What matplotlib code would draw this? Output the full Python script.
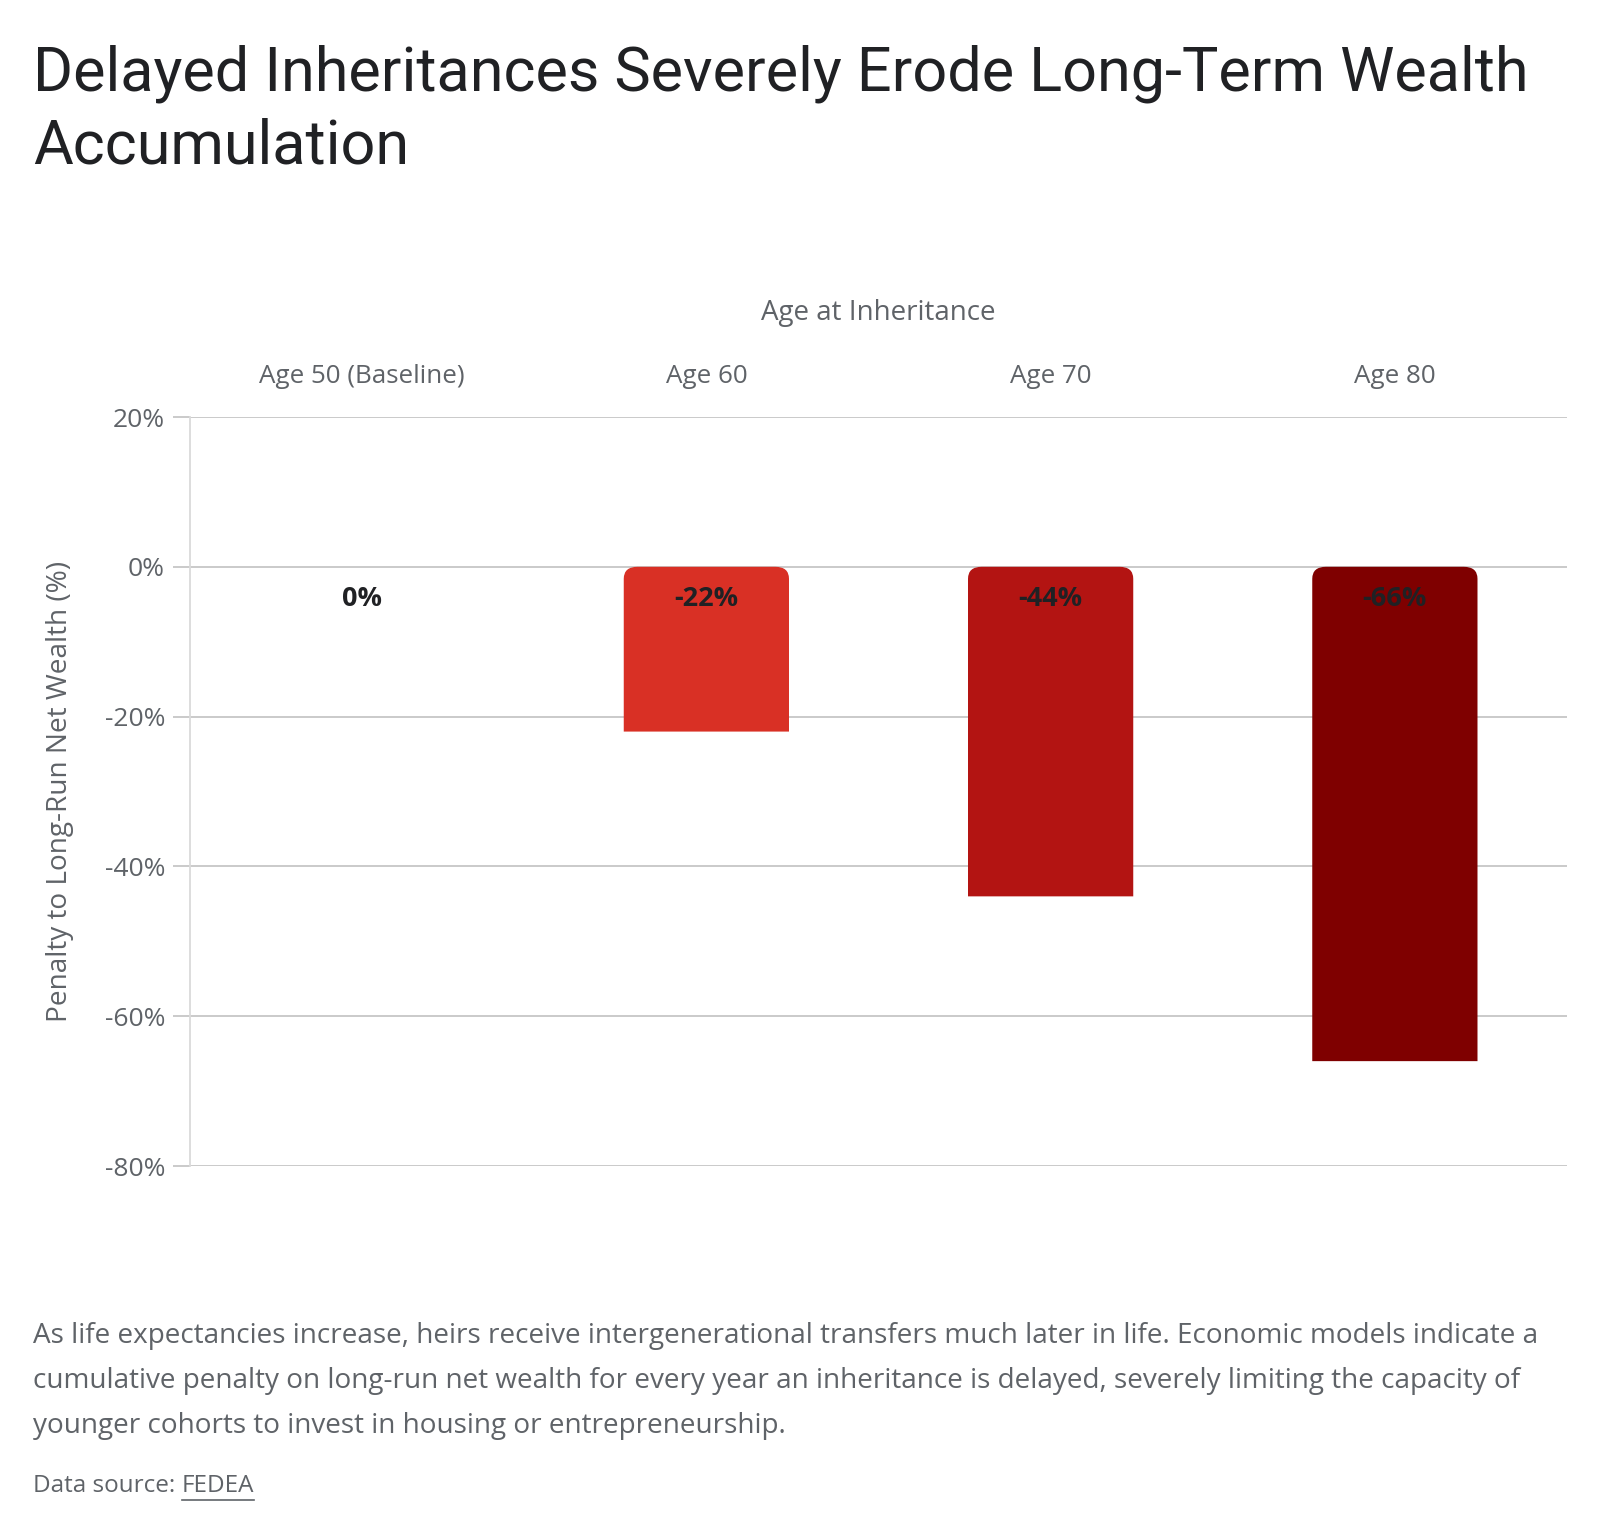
import matplotlib.pyplot as plt
from matplotlib.patches import PathPatch
from matplotlib.path import Path

# Data
categories = ["Age 50 (Baseline)", "Age 60", "Age 70", "Age 80"]
penalties = [0, -22, -44, -66]
bar_colors = ["#e8453c", "#d93025", "#b31412", "#7f0000"]
y_ticks = [20, 0, -20, -40, -60, -80]

title = "Delayed Inheritances Severely Erode Long-Term Wealth\nAccumulation"
subtitle = ("As life expectancies increase, heirs receive intergenerational transfers much later in life. Economic models indicate a\n"
            "cumulative penalty on long-run net wealth for every year an inheritance is delayed, severely limiting the capacity of\n"
            "younger cohorts to invest in housing or entrepreneurship.")

plt.rcParams["font.family"] = ["Open Sans", "DejaVu Sans"]
grey = "#5f6368"

W, H = 1600, 1534
fig = plt.figure(figsize=(W / 100, H / 100), dpi=100)
ax = fig.add_axes([190 / W, 1 - 1166 / H, (1567 - 190) / W, (1166 - 417) / H])

# Bars with rounded corners at the zero end
width = 0.48
r_x, r_y = 0.04, 1.6
for i, (v, c) in enumerate(zip(penalties, bar_colors)):
    if v == 0:
        continue
    x0, x1 = i - width / 2, i + width / 2
    verts = [(x0, v), (x0, -r_y), (x0, 0), (x0 + r_x, 0), (x1 - r_x, 0),
             (x1, 0), (x1, -r_y), (x1, v), (x0, v)]
    codes = [Path.MOVETO, Path.LINETO, Path.CURVE3, Path.CURVE3, Path.LINETO,
             Path.CURVE3, Path.CURVE3, Path.LINETO, Path.CLOSEPOLY]
    ax.add_patch(PathPatch(Path(verts, codes), facecolor=c, edgecolor="none", zorder=3))

for i, v in enumerate(penalties):
    ax.text(i, -4.3, f"{v}%", ha="center", va="center", fontsize=19.5,
            fontweight="bold", color="#202124", zorder=4)

ax.set_xlim(-0.5, 3.5)
ax.set_ylim(-80, 20)
ax.set_yticks(y_ticks)
ax.set_yticklabels([f"{t}%" for t in y_ticks])
ax.yaxis.grid(True, color="#c6c6c6", linewidth=1.3, zorder=0)
ax.set_axisbelow(True)

ax.xaxis.tick_top()
ax.set_xticks(range(len(categories)))
ax.set_xticklabels(categories)
ax.tick_params(axis="x", length=0, pad=20, labelsize=18.7, labelcolor=grey)
ax.tick_params(axis="y", length=12, width=1.3, color="#c6c6c6", pad=6,
               labelsize=19, labelcolor=grey)
for s in ["top", "right", "bottom"]:
    ax.spines[s].set_visible(False)
ax.spines["left"].set_color("#dadada")
ax.spines["left"].set_linewidth(1.3)

ax.set_xlabel("Age at Inheritance", fontsize=20, color=grey, labelpad=32)
ax.xaxis.set_label_position("top")
ax.set_ylabel("Penalty to Long-Run Net Wealth (%)", fontsize=20.2, color=grey, labelpad=22)

fig.text(33 / W, 1 - 110 / H, title, fontsize=44, color="#202124",
         ha="left", va="center", linespacing=1.3, family="Roboto")
fig.text(33 / W, 1 - 1381 / H, subtitle, fontsize=20.1, color=grey,
         ha="left", va="center", linespacing=1.82)
src = fig.text(33 / W, 1 - 1486 / H, "Data source: ", fontsize=17.5, color=grey,
               ha="left", va="center")
fig.canvas.draw()
bb = src.get_window_extent()
link = fig.text(bb.x1 / W, 1 - 1486 / H, "FEDEA", fontsize=17.5, color=grey,
                ha="left", va="center")
lb = link.get_window_extent()
fig.add_artist(plt.Line2D([lb.x0 / W, lb.x1 / W], [(lb.y0 - 2) / H] * 2,
                          color=grey, linewidth=1.2))

fig.savefig("out.png", dpi=100)
